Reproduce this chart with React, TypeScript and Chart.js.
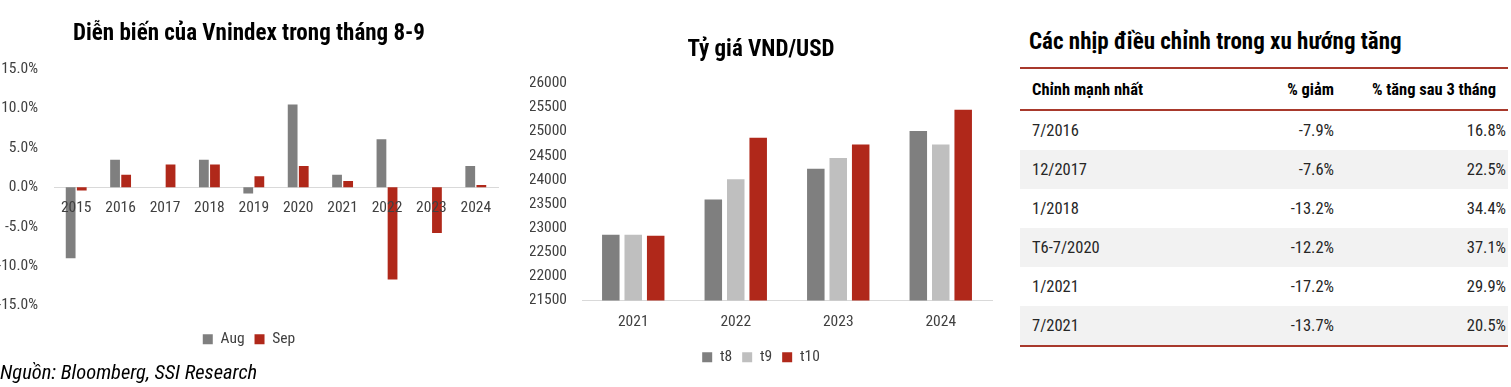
import React, { useEffect, useRef } from 'react';
import Chart from 'chart.js/auto';

const FONT = '"Roboto Condensed", "Liberation Sans Narrow", "Arial Narrow", "DejaVu Sans Condensed", sans-serif';

// Chart 1: Vnindex monthly change (Aug / Sep)
const vnYears = ['2015', '2016', '2017', '2018', '2019', '2020', '2021', '2022', '2023', '2024'];
const augChange = [-9.0, 3.5, 0.0, 3.5, -0.8, 10.5, 1.6, 6.1, 0.0, 2.7];
const sepChange = [-0.4, 1.6, 2.9, 2.9, 1.4, 2.7, 0.8, -11.7, -5.8, 0.3];
const vnMin = -15;
const vnMax = 15;
const vnStep = 5;

// Chart 2: VND/USD exchange rate
const fxYears = ['2021', '2022', '2023', '2024'];
const fxT8 = [22860, 23590, 24230, 25010];
const fxT9 = [22860, 24010, 24450, 24730];
const fxT10 = [22840, 24870, 24730, 25450];
const fxMin = 21500;
const fxMax = 26000;
const fxStep = 500;

// Table: corrections in uptrend
const tableHeaders = ['Chỉnh mạnh nhất', '% giảm', '% tăng sau 3 tháng'];
const corrPeriods = ['7/2016', '12/2017', '1/2018', 'T6-7/2020', '1/2021', '7/2021'];
const corrDrops = [-7.9, -7.6, -13.2, -12.2, -17.2, -13.7];
const corrGains = [16.8, 22.5, 34.4, 37.1, 29.9, 20.5];

const GREY = '#7f7f7f';
const LIGHT = '#bfbfbf';
const RED = '#b0281a';
const TICK = '#404040';

function VnChart() {
  const ref = useRef<HTMLCanvasElement>(null);
  useEffect(() => {
    const chart = new Chart(ref.current!, {
      type: 'bar',
      data: {
        labels: vnYears,
        datasets: [
          { label: 'Aug', data: augChange, backgroundColor: GREY, categoryPercentage: 0.5, barPercentage: 0.88 },
          { label: 'Sep', data: sepChange, backgroundColor: RED, categoryPercentage: 0.5, barPercentage: 0.88 },
        ],
      },
      options: {
        animation: false,
        responsive: false,
        layout: { padding: { left: 0, right: 7, top: 0, bottom: 3 } },
        plugins: {
          title: {
            display: true,
            text: 'Diễn biến của Vnindex trong tháng 8-9',
            color: '#000',
            font: { family: FONT, size: 23, weight: 'bold' },
            padding: { top: 20, bottom: 21.4 },
          },
          legend: {
            position: 'bottom',
            labels: { color: TICK, font: { family: FONT, size: 15.5 }, boxWidth: 10, boxHeight: 10, padding: 10 },
          },
          tooltip: { enabled: false },
        },
        scales: {
          x: {
            position: { y: 0 } as any,
            grid: { display: false, drawTicks: false },
            border: { display: true, color: '#d9d9d9' },
            ticks: { color: TICK, font: { family: FONT, size: 15.5 }, padding: 12, z: 1 },
          } as any,
          space: {
            type: 'category',
            position: 'bottom',
            labels: vnYears,
            grid: { display: false, drawTicks: false },
            border: { display: false },
            ticks: { display: false },
            afterFit: (s: any) => { s.height = 16; },
          } as any,
          y: {
            min: vnMin,
            max: vnMax,
            grid: { display: false, drawTicks: false },
            border: { display: false },
            ticks: {
              stepSize: vnStep,
              color: TICK,
              font: { family: FONT, size: 15.5 },
              padding: 16,
              callback: (v: any) => Number(v).toFixed(1) + '%',
            },
            afterFit: (s: any) => { s.width = 54; },
          },
        },
      },
    });
    return () => chart.destroy();
  }, []);
  return <canvas ref={ref} width={505} height={360} style={{ position: 'absolute', left: 0, top: 0 }} />;
}

function FxChart() {
  const ref = useRef<HTMLCanvasElement>(null);
  useEffect(() => {
    const chart = new Chart(ref.current!, {
      type: 'bar',
      data: {
        labels: fxYears,
        datasets: [
          { label: 't8', data: fxT8, backgroundColor: GREY, categoryPercentage: 0.657, barPercentage: 0.78 },
          { label: 't9', data: fxT9, backgroundColor: LIGHT, categoryPercentage: 0.657, barPercentage: 0.78 },
          { label: 't10', data: fxT10, backgroundColor: RED, categoryPercentage: 0.657, barPercentage: 0.78 },
        ],
      },
      options: {
        animation: false,
        responsive: false,
        layout: { padding: { left: 0, right: 8, top: 0, bottom: 0 } },
        plugins: {
          title: {
            display: true,
            text: 'Tỷ giá VND/USD',
            color: '#000',
            font: { family: FONT, size: 23, weight: 'bold' },
            padding: { top: 36, bottom: 19.7 },
          },
          legend: {
            position: 'bottom',
            labels: { color: TICK, font: { family: FONT, size: 15.5 }, boxWidth: 10, boxHeight: 10, padding: 10 },
          },
          tooltip: { enabled: false },
        },
        scales: {
          x: {
            grid: { display: false, drawTicks: false },
            border: { display: true, color: '#d9d9d9' },
            ticks: { color: TICK, font: { family: FONT, size: 15.5 }, padding: 12 },
            afterFit: (s: any) => { s.height = 39; },
          },
          y: {
            min: fxMin,
            max: fxMax,
            grid: { display: false, drawTicks: false },
            border: { display: false },
            ticks: {
              stepSize: fxStep,
              color: TICK,
              font: { family: FONT, size: 15.5 },
              padding: 15,
              callback: (v: any) => String(v),
            },
            afterFit: (s: any) => { s.width = 52; },
          },
        },
      },
    });
    return () => chart.destroy();
  }, []);
  return <canvas ref={ref} width={470} height={375} style={{ position: 'absolute', left: 530, top: 0 }} />;
}

function CorrTable() {
  const redLine = '2px solid #a8392c';
  const cell: React.CSSProperties = { padding: 0, height: 39, verticalAlign: 'middle' };
  return (
    <div style={{ position: 'absolute', left: 1020, top: 0, width: 488, fontFamily: FONT, color: '#262626' }}>
      <div style={{ position: 'absolute', left: 9, top: 27, fontSize: 23, fontWeight: 'bold', color: '#000', whiteSpace: 'nowrap', lineHeight: '30px' }}>
        Các nhịp điều chỉnh trong xu hướng tăng
      </div>
      <table style={{ position: 'absolute', top: 67, left: 0, width: 488, borderCollapse: 'collapse', fontSize: 16.5 }}>
        <thead>
          <tr style={{ borderTop: redLine, borderBottom: redLine }}>
            <th style={{ ...cell, height: 40, textAlign: 'left', paddingLeft: 12, fontWeight: 'bold', color: '#000' }}>{tableHeaders[0]}</th>
            <th style={{ ...cell, height: 40, textAlign: 'right', width: 120, fontWeight: 'bold', color: '#000' }}>{tableHeaders[1]}</th>
            <th style={{ ...cell, height: 40, textAlign: 'right', width: 162, paddingRight: 12, fontWeight: 'bold', color: '#000' }}>{tableHeaders[2]}</th>
          </tr>
        </thead>
        <tbody style={{ borderBottom: redLine }}>
          {corrPeriods.map((p, i) => (
            <tr key={p} style={{ background: i % 2 === 1 ? '#f2f2f2' : '#fff' }}>
              <td style={{ ...cell, textAlign: 'left', paddingLeft: 12 }}>{p}</td>
              <td style={{ ...cell, textAlign: 'right' }}>{corrDrops[i].toFixed(1)}%</td>
              <td style={{ ...cell, textAlign: 'right', paddingRight: 2 }}>{corrGains[i].toFixed(1)}%</td>
            </tr>
          ))}
        </tbody>
      </table>
    </div>
  );
}

export default function App() {
  return (
    <div style={{ position: 'fixed', left: 0, top: 0, width: 1511, height: 387, background: '#fff', overflow: 'hidden' }}>
      <VnChart />
      <FxChart />
      <CorrTable />
      <div style={{ position: 'absolute', left: 0, top: 358, fontFamily: FONT, fontStyle: 'italic', fontSize: 20.5, color: '#000', whiteSpace: 'nowrap', lineHeight: '28px' }}>
        Nguồn: Bloomberg, SSI Research
      </div>
    </div>
  );
}
